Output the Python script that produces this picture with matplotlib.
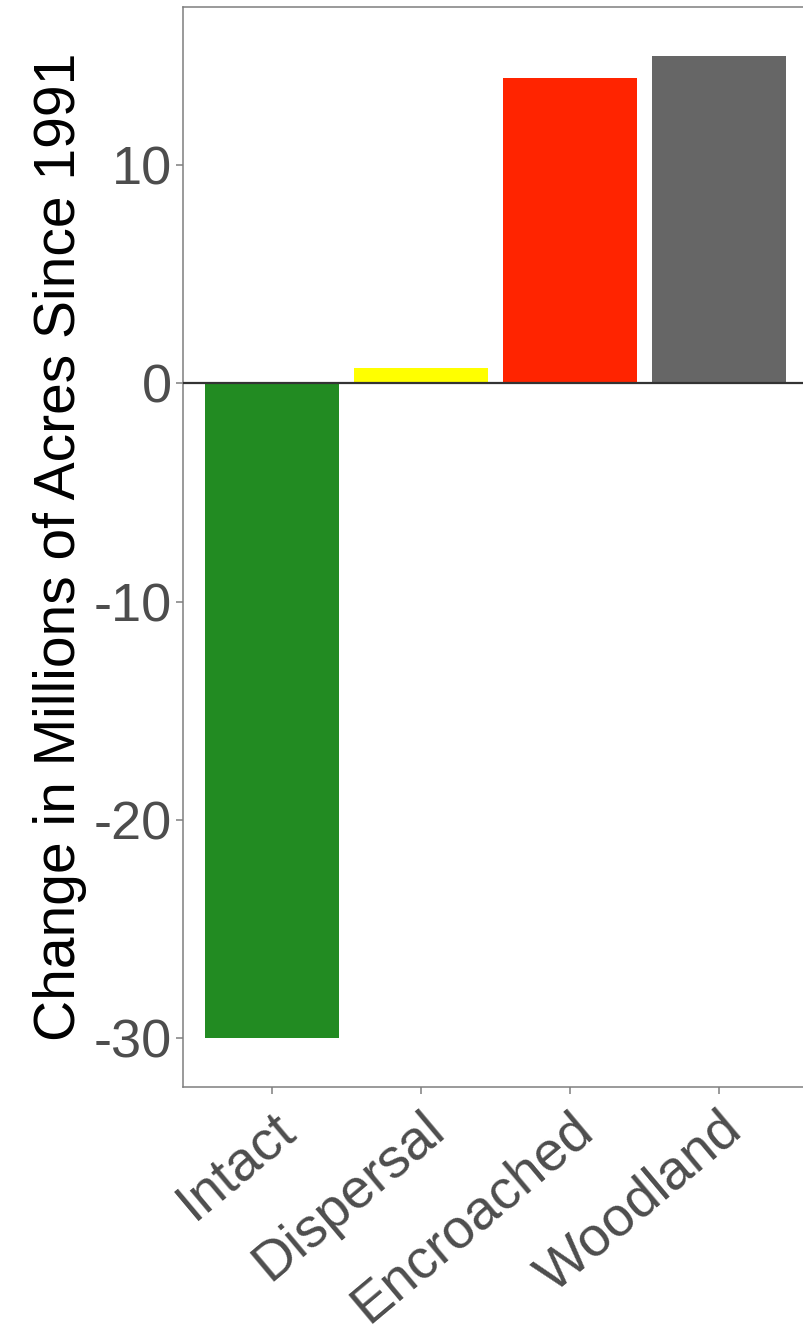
import matplotlib
matplotlib.use("Agg")
import matplotlib.pyplot as plt

categories = ["Intact", "Dispersal", "Encroached", "Woodland"]
changes = [-30.0, 0.7, 14.0, 15.0]
colors = ["#228B22", "#FFFF00", "#FF2400", "#666666"]
yticks = [-30, -20, -10, 0, 10]
ytick_labels = ["-30", "-20", "-10", "0", "10"]
ylabel = "Change in Millions of Acres Since 1991"

plt.rcParams["font.family"] = ["Liberation Sans", "DejaVu Sans"]

W, H = 804, 1329
fig = plt.figure(figsize=(W / 100, H / 100), dpi=100)
ax = fig.add_axes([183 / W, 1 - 1087 / H, (808 - 183) / W, (1087 - 7) / H])

x = list(range(len(categories)))
ax.bar(x, changes, width=0.9, color=colors, zorder=2)
ax.axhline(0, color="#333333", linewidth=1.6, zorder=3)

ax.set_xlim(-0.6, len(categories) - 0.4)
ax.set_ylim(-32.25, 17.25)
ax.set_yticks(yticks)
ax.set_yticklabels(ytick_labels)
ax.set_xticks(x)
ax.set_xticklabels(categories, rotation=40, ha="right", va="top",
                   rotation_mode="anchor")

for s in ax.spines.values():
    s.set_color("#7F7F7F")
    s.set_linewidth(1.1)

ax.tick_params(axis="both", colors="#7F7F7F", length=5, width=1.1,
               labelcolor="#4D4D4D")
ax.tick_params(axis="y", labelsize=39, pad=3)
ax.tick_params(axis="x", labelsize=40, pad=6)
ax.set_ylabel(ylabel, fontsize=41, color="black", labelpad=5)

fig.savefig("out.png", dpi=100, facecolor="white")
